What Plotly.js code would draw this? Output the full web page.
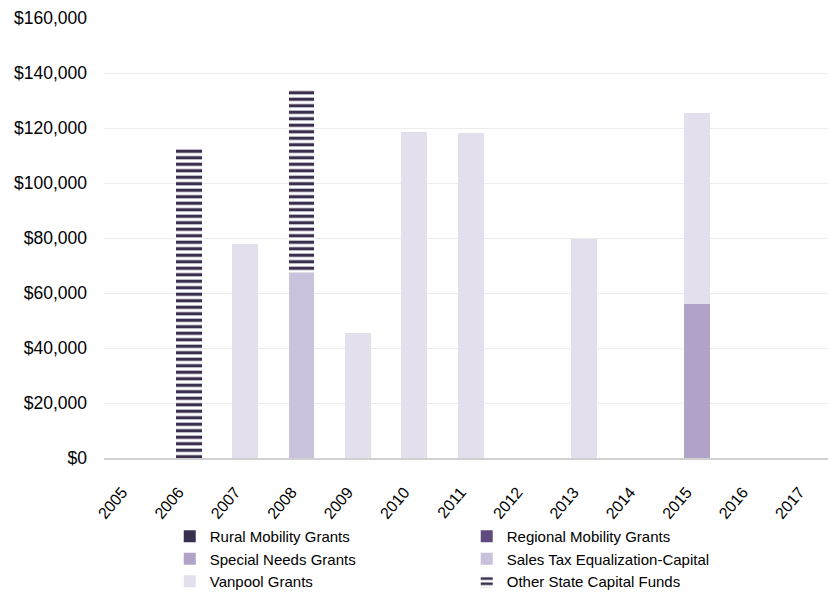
<!DOCTYPE html>
<html>
<head>
<meta charset="utf-8">
<script src="https://cdn.plot.ly/plotly-3.0.1.min.js"></script>
<style>html,body{margin:0;padding:0;background:#fff;}#chart{width:828px;height:599px;}</style>
</head>
<body>
<div id="chart"></div>
<script>
const years = ['2005','2006','2007','2008','2009','2010','2011','2012','2013','2014','2015','2016','2017'];
const ruralMobility   = [0,0,0,0,0,0,0,0,0,0,0,0,0];
const regionalMobility= [0,0,0,0,0,0,0,0,0,0,0,0,0];
const specialNeeds    = [0,0,0,0,0,0,0,0,0,0,56000,0,0];
const salesTaxEq      = [0,0,0,67200,0,0,0,0,0,0,0,0,0];
const vanpool         = [0,0,77800,0,45400,118700,118200,0,79600,0,69500,0,0];
const otherState      = [0,112400,0,67000,0,0,0,0,0,0,0,0,0];
const yTicks = [0,20000,40000,60000,80000,100000,120000,140000,160000];
const yTickText = ['$0','$20,000','$40,000','$60,000','$80,000','$100,000','$120,000','$140,000','$160,000'];

const font = 'Liberation Sans, Arial, sans-serif';
function bar(name, y, color, extra){
  return Object.assign({type:'bar', name:name, x:years, y:y,
    marker:{color:color, line:{width:0}}, hoverinfo:'x+y'}, extra||{});
}
const traces = [
  bar('Rural Mobility Grants', ruralMobility, '#3b2f50'),
  bar('Regional Mobility Grants', regionalMobility, '#5f4b80'),
  bar('Special Needs Grants', specialNeeds, '#b1a2c8'),
  bar('Sales Tax Equalization-Capital', salesTaxEq, '#cac1dc'),
  bar('Vanpool Grants', vanpool, '#e4dfec'),
  {type:'bar', name:'Other State Capital Funds', x:years, y:otherState,
   marker:{color:'#3b2f50', line:{width:0},
     pattern:{shape:'-', fgcolor:'#3b2f50', bgcolor:'#ffffff', size:6.5, solidity:0.5, fillmode:'replace'}}}
];
const layout = {
  width:828, height:599,
  margin:{l:104, r:0, t:18, b:141, pad:0, autoexpand:false},
  paper_bgcolor:'#fff', plot_bgcolor:'#fff',
  barmode:'stack', bargap:0.54,
  font:{family:font, color:'#000'},
  showlegend:true,
  xaxis:{type:'category', range:[-0.5,12.33], tickangle:-50, showgrid:false, automargin:false,
    showline:true, linecolor:'#d0d0d0', linewidth:1.5, ticks:'',
    ticklabelstandoff:17, ticklabelshift:-10,
    tickfont:{size:16, family:font, color:'#000'}, fixedrange:true},
  yaxis:{range:[0,160000], tickvals:yTicks, ticktext:yTickText, automargin:false,
    showgrid:true, gridcolor:'#ececec', gridwidth:1, zeroline:false,
    showline:false, ticks:'', ticklen:0, ticklabelstandoff:16,
    tickfont:{size:17.5, family:font, color:'#000'}, fixedrange:true},
  legend:{orientation:'h', xref:'container', yref:'container', x:0.205, xanchor:'left', y:0.132, yanchor:'top',
    traceorder:'normal', entrywidth:252, entrywidthmode:'pixels',
    font:{size:15, family:font, color:'#000'},
    bgcolor:'rgba(0,0,0,0)', itemclick:false}
};
Plotly.newPlot('chart', traces, layout, {displayModeBar:false, staticPlot:true});
</script>
</body>
</html>
